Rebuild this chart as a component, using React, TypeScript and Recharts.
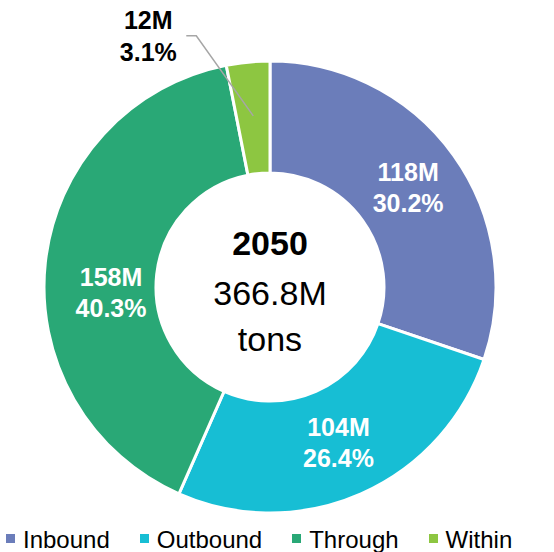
import React from 'react';
import { PieChart, Pie, Cell, Legend, Label } from 'recharts';

const categories = ['Inbound', 'Outbound', 'Through', 'Within'];
const shares = [30.2, 26.4, 40.3, 3.1];
const tonnage = [118, 104, 158, 12];
const year = '2050';
const total = '366.8M';
const unit = 'tons';

const COLORS = ['#6b7dba', '#17bed4', '#29a876', '#8dc641'];
const FONT = '"Liberation Sans", Arial, sans-serif';
const RAD = Math.PI / 180;
const PIE_CX = 270;
const PIE_CY = 287;

const data = categories.map((name, i) => ({ name, share: shares[i], tons: tonnage[i] }));

// hand-placed nudge for the big slice label (original had it moved down a bit)
const nudges: Record<string, [number, number]> = { Through: [10, 24] };

const renderLabel = (props: any) => {
  const { cx, cy, midAngle, innerRadius, outerRadius, index } = props;
  const name = categories[index];
  const top = `${tonnage[index]}M`;
  const bottom = `${shares[index].toFixed(1)}%`;

  if (name === 'Within') {
    // small slice: label sits outside with a leader line
    const r = (innerRadius + outerRadius) / 2 + 2;
    const ex = cx + r * Math.cos(-midAngle * RAD);
    const ey = cy + r * Math.sin(-midAngle * RAD);
    const kx = ex - 57;
    const ky = ey - 80;
    return (
      <g>
        <polyline
          points={`${ex},${ey} ${kx},${ky} ${kx - 10},${ky}`}
          fill="none"
          stroke="#a6a6a6"
          strokeWidth={1.5}
        />
        <text x={kx - 48} y={ky - 7} textAnchor="middle" fill="#000" fontFamily={FONT} fontSize={25} fontWeight="bold">
          {top}
        </text>
        <text x={kx - 48} y={ky + 25} textAnchor="middle" fill="#000" fontFamily={FONT} fontSize={25} fontWeight="bold">
          {bottom}
        </text>
      </g>
    );
  }

  const r = (innerRadius + outerRadius) / 2;
  const [dx, dy] = nudges[name] ?? [0, 0];
  const x = cx + r * Math.cos(-midAngle * RAD) + dx;
  const y = cy + r * Math.sin(-midAngle * RAD) + dy;
  return (
    <g>
      <text x={x} y={y - 6.5} textAnchor="middle" fill="#fff" fontFamily={FONT} fontSize={25} fontWeight="bold">
        {top}
      </text>
      <text x={x} y={y + 24.5} textAnchor="middle" fill="#fff" fontFamily={FONT} fontSize={25} fontWeight="bold">
        {bottom}
      </text>
    </g>
  );
};

const CenterText = () => (
  <g fontFamily={FONT} fontSize={34} fill="#000" textAnchor="middle">
    <text x={PIE_CX} y={PIE_CY - 32} fontWeight="bold">{year}</text>
    <text x={PIE_CX} y={PIE_CY + 18}>{total}</text>
    <text x={PIE_CX} y={PIE_CY + 64}>{unit}</text>
  </g>
);

const renderLegend = () => (
  <div
    style={{
      display: 'flex',
      paddingLeft: 6,
      fontFamily: FONT,
      fontSize: 24,
      lineHeight: '24px',
      color: '#000',
    }}
  >
    {categories.map((c, i) => (
      <div key={c} style={{ display: 'flex', alignItems: 'center', marginRight: 30 }}>
        <span style={{ width: 9, height: 9, background: COLORS[i], marginRight: 8, marginTop: -3 }} />
        <span>{c}</span>
      </div>
    ))}
  </div>
);

export default function App() {
  return (
    <div style={{ position: 'absolute', left: 0, top: 0, background: '#fff' }}>
      <PieChart width={554} height={552} margin={{ top: 0, right: 0, bottom: 0, left: 0 }}>
        <Pie
          data={data}
          dataKey="share"
          nameKey="name"
          cx={PIE_CX}
          cy={PIE_CY}
          innerRadius={114}
          outerRadius={226}
          startAngle={90}
          endAngle={-270}
          stroke="#fff"
          strokeWidth={3}
          label={renderLabel}
          labelLine={false}
          isAnimationActive={false}
        >
          {data.map((d, i) => (
            <Cell key={d.name} fill={COLORS[i]} />
          ))}
          <Label position="center" content={CenterText} />
        </Pie>
        <Legend content={renderLegend} wrapperStyle={{ top: 528, left: 0, bottom: 'auto', width: 554 }} />
      </PieChart>
    </div>
  );
}
